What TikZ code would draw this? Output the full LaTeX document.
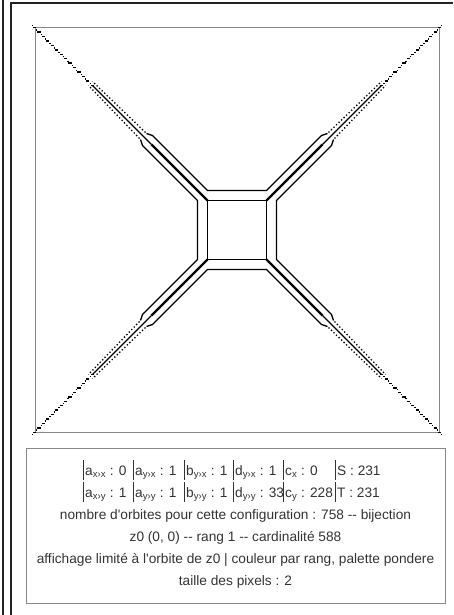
\documentclass[tikz,border=0pt]{standalone}
\usepackage{fontspec}
\setmainfont{Liberation Sans}[Ligatures=TeXOff]
\definecolor{txtc}{HTML}{333333}
\definecolor{framec}{HTML}{222222}
\definecolor{boxc}{HTML}{888888}
\begin{document}
\begin{tikzpicture}[x=1pt,y=-1pt,
  frameline/.style={draw=framec,line width=1.3pt},
  imgborder/.style={draw=boxc,line width=1pt},
  thickmain/.style={line width=2.2pt,line cap=butt},
  thinmain/.style={line width=1.1pt},
  outerline/.style={line width=1.4pt},
  dotline/.style={line width=1.3pt,dash pattern=on 1.3pt off 2.2pt},
  sqline/.style={line width=1.7pt},
  txt/.style={font=\fontsize{13.7}{16}\selectfont,text=txtc,inner sep=0pt},
  cell/.style={txt,anchor=base west},
  bar/.style={draw=txtc,line width=0.8pt}]
\useasboundingbox (0,0) rectangle (453,615);
% outer frame
\draw[frameline] (3,0) -- (3,615);
\draw[frameline] (11,615) -- (11,3) -- (453,3);
% image area
\draw[imgborder] (35,28) rectangle (439,432);
\def\h{29.5}
\def\d{10}
\begin{scope}[shift={(237,230)}]
  \draw[sqline] (-\h,-\h) rectangle (\h,\h);
  \foreach \sx/\sy in {1/1,-1/1,1/-1,-1/-1}{
    \begin{scope}[xscale=\sx,yscale=\sy]
      \draw[thickmain] (-\h,-\h) -- (-\h-56,-\h-56);
      \draw[thinmain] (-\h-56,-\h-56) -- (-\h-115,-\h-115);
      \draw[outerline] (0,-\h-\d) -- (-\h,-\h-\d) -- (-\h-55,-\h-55-\d) -- (-\h-61,-\h-61-6);
      \draw[outerline] (-\h-\d,0) -- (-\h-\d,-\h) -- (-\h-55-\d,-\h-55) -- (-\h-61-6,-\h-61);
      \draw[dotline] (-\h-62,-\h-62-6) -- (-\h-115,-\h-115-4);
      \draw[dotline] (-\h-62-6,-\h-62) -- (-\h-115-4,-\h-115);
      \foreach \i in {0,...,13}{
        \pgfmathsetmacro\sv{\h+115+\i*4.45}
        \fill (-\sv-1.8,-\sv-0.8) rectangle (-\sv+1.4,-\sv+0.7);
        \fill (-\sv-3.0,-\sv-2.6) rectangle (-\sv-1.7,-\sv-1.3);
      }
    \end{scope}
  }
\end{scope}
% text box
\draw[imgborder] (26,448) rectangle (445,603);
% table rows
\foreach \bx in {83,133,184,233,283,335}{
  \draw[bar] (\bx,460) -- (\bx,480);
  \draw[bar] (\bx,482) -- (\bx,502);
}
\node[cell] (r1c1) at (85,475) {a\textsubscript{x›x} : 0};
\node[cell] (r1c2) at (135,475) {a\textsubscript{y›x} : 1};
\node[cell] (r1c3) at (186,475) {b\textsubscript{y›x} : 1};
\node[cell] (r1c4) at (235,475) {d\textsubscript{y›x} : 1};
\node[cell] (r1c5) at (285,475) {c\textsubscript{x} : 0};
\node[cell] (r1c6) at (337,475) {S : 231};
\node[cell] (r2c1) at (85,497) {a\textsubscript{x›y} : 1};
\node[cell] (r2c2) at (135,497) {a\textsubscript{y›y} : 1};
\node[cell] (r2c3) at (186,497) {b\textsubscript{y›y} : 1};
\node[cell] (r2c4) at (235,497) {d\textsubscript{y›y} : 33};
\node[cell] (r2c5) at (285,497) {c\textsubscript{y} : 228};
\node[cell] (r2c6) at (337,497) {T : 231};
\node[txt,anchor=base] (l3) at (235.5,519) {nombre d'orbites pour cette configuration : 758 -- bijection};
\node[txt,anchor=base] (l4) at (235.5,541) {z0 (0, 0) -- rang 1 -- cardinalité 588};
\node[txt,anchor=base] (l5) at (235.5,563) {affichage limité à l'orbite de z0 | couleur par rang, palette pondere};
\node[txt,anchor=base] (l6) at (235.5,585) {taille des pixels : 2};
\end{tikzpicture}
\end{document}
